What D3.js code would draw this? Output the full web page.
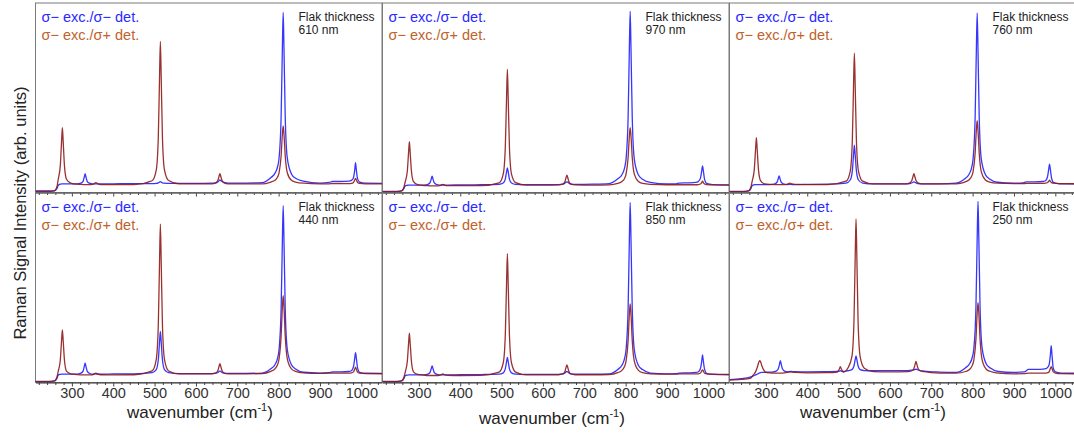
<!DOCTYPE html>
<html><head><meta charset="utf-8">
<script src="https://cdn.jsdelivr.net/npm/d3@7"></script>
<style>body{margin:0;background:#fff}svg{display:block}</style>
</head><body>
<script>
// ---------- DATA ----------
const wavenumber = [212,245,258,264,267,272,275,277,279,282,287,297,312,322,327,330,332,334,337,342,350,353,358,363,370,400,450,494,504,509,512,514,516,519,524,534,560,600,638,648,653,656,658,660,663,668,678,720,760,781,791,797,801,806,809,811,813,816,821,831,841,860,900,922,930,950,970,976,981,984,986,988,991,996,1010,1059];
const wavenumber250 = [212,240,262,270,275,280,283,285,287,290,295,302,315,325,330,333,335,337,340,345,352,360,370,400,450,472,477,480,483,488,498,508,513,516,518,520,523,528,538,560,600,643,653,658,661,663,665,668,673,683,720,760,783,793,799,803,808,811,813,815,818,823,833,843,862,900,925,935,955,974,980,985,988,990,992,995,1000,1014,1059];

const thicknessLabels = ["610 nm","970 nm","760 nm","440 nm","850 nm","250 nm"];
const seriesNames = ["σ− exc./σ− det.","σ− exc./σ+ det."];
const majorTicks = [300,400,500,600,700,800,900,1000];
const minorTicks = [220,240,260,280,320,340,360,380,420,440,460,480,520,540,560,580,620,640,660,680,720,740,760,780,820,840,860,880,920,940,960,980,1020,1040];

const blue610 = [0.8,0.8,1.0,2.2,3.8,4.4,4.5,4.6,4.6,4.6, 4.6,4.5,4.5,4.9,5.9,8.2,10,8.2,5.9,4.9, 4.5,4.5,4.6,4.5,4.5,4.6,4.7,4.7,4.8,5.1, 5.5,5.7,5.5,5.1,4.9,4.8,4.8,4.8,4.9,5.1, 5.6,6.2,6.6,6.3,5.8,5.3,5.0,5.0,5.2,7.8, 10.1,13.2,18.1,39.6,75.3,95,75.3,39.6,18.1,9.8, 7.5,6.0,5.0,5.3,5.8,5.8,6.0,6.4,7.8,11.8, 15.7,11.8,7.2,5.5,4.9,4.8];
const red610 = [0.6,0.6,0.9,3.2,7.0,14.2,26.7,34.2,26.7,14.2, 7.0,5.0,4.4,4.3,4.2,4.2,4.2,4.2,4.2,4.2, 4.3,4.5,5.2,4.5,4.2,4.2,4.2,6.2,11.8,29.2, 60.9,79.7,60.9,29.2,11.8,6.3,4.5,4.5,4.6,5.1, 6.3,8.6,10,8.6,6.3,5.1,4.6,4.5,4.5,5.5, 6.4,8.0,10.4,19.3,30.6,35.2,30.6,19.3,10.4,6.4, 5.5,4.9,4.6,4.6,4.7,4.7,4.7,4.8,5.3,6.6, 7.4,6.6,5.3,4.8,4.6,4.5];
const blue970 = [0.6,0.6,0.9,2.2,3.5,3.8,3.9,3.9,3.9,3.9, 3.9,3.9,3.9,4.3,5.2,7.2,8.6,7.2,5.2,4.3, 3.9,3.9,4.0,3.9,3.9,4.0,4.1,4.3,5.0,7.1, 10.9,13,10.9,7.1,5.0,4.3,4.2,4.2,4.2,4.4, 4.9,5.4,5.6,5.4,4.9,4.4,4.3,4.4,4.7,7.2, 9.4,12.6,17.6,39.4,75.6,95.6,75.6,39.4,17.6,9.2, 7.0,5.3,4.5,4.6,5.0,5.1,5.3,5.8,7.6,11.4, 14,11.4,6.8,4.8,4.2,4.0];
const red970 = [0.5,0.5,0.8,3.0,5.7,11.2,20.9,26.8,20.9,11.2, 5.7,4.1,3.7,3.6,3.5,3.5,3.5,3.5,3.5,3.5, 3.6,3.8,4.3,3.8,3.6,3.6,3.6,5.1,9.7,23.9, 49.6,65,49.6,23.9,9.7,5.2,3.9,3.9,4.0,4.4, 5.6,7.9,9.2,7.9,5.6,4.4,4.0,3.9,4.0,4.8, 5.8,7.3,9.7,18.5,29.7,34.2,29.7,18.5,9.7,5.8, 4.8,4.3,4.1,4.1,4.1,4.1,4.1,4.2,4.5,5.2, 6.0,5.2,4.5,4.2,4.0,3.9];
const blue760 = [0.6,0.6,0.9,2.2,3.7,4.1,4.2,4.2,4.2,4.2, 4.2,4.2,4.2,4.6,5.5,7.4,8.8,7.4,5.5,4.6, 4.2,4.2,4.3,4.2,4.2,4.3,4.4,5.0,6.6,11.3, 19.9,25,19.9,11.3,6.6,5.0,4.5,4.5,4.5,4.7, 5.1,5.4,5.6,5.4,5.1,4.7,4.6,4.6,4.9,7.2, 9.5,12.6,17.6,39.1,75,94.7,75,39.1,17.6,9.4, 7.1,5.4,4.9,5.1,5.6,5.6,5.8,6.2,8.2,12.2, 15,12.2,7.4,5.2,4.6,4.5];
const red760 = [0.5,0.5,0.8,3.1,6.1,12.2,22.6,28.9,22.6,12.2, 6.3,4.6,4.3,4.2,4.2,4.2,4.2,4.2,4.2,4.2, 4.3,4.5,5.0,4.5,4.3,4.2,4.2,6.0,11.2,27.1, 56.2,73.5,56.2,27.1,11.2,6.0,4.5,4.5,4.6,5.1, 6.3,8.6,10,8.6,6.3,5.1,4.6,4.5,4.6,5.5, 6.6,8.3,10.9,20.6,32.9,37.9,32.9,20.6,10.9,6.6, 5.5,4.9,4.7,4.7,4.8,4.8,4.8,4.9,5.3,5.9, 6.5,5.9,5.2,4.9,4.7,4.6];
const blue440 = [0.6,0.6,0.9,2.3,3.9,4.3,4.4,4.4,4.4,4.4, 4.4,4.4,4.4,4.9,6.0,8.5,10.2,8.5,6.0,4.9, 4.4,4.4,4.5,4.4,4.4,4.5,4.6,5.2,6.8,12.0, 21.4,27,21.4,12.0,6.8,5.2,4.7,4.7,4.7,4.9, 5.3,5.8,6.0,5.8,5.3,4.9,4.8,4.8,5.0,7.2, 9.4,12.5,17.4,38.6,73.9,93.3,73.9,38.6,17.4,9.4, 7.1,5.4,5.0,5.2,5.6,5.6,5.8,6.2,8.3,12.7, 15.8,12.7,7.6,5.4,4.9,4.8];
const red440 = [0.5,0.5,0.8,3.0,5.9,11.9,21.9,27.8,21.9,11.9, 6.0,4.6,4.2,4.0,4.0,4.0,4.0,4.0,4.0,4.0, 4.1,4.4,5.0,4.4,4.1,4.0,4.1,6.1,12.1,30.3, 63.7,83.6,63.7,30.3,12.1,6.1,4.5,4.5,4.6,5.0, 6.3,8.6,9.9,8.6,6.3,5.0,4.6,4.6,4.7,5.9, 7.2,9.2,12.5,24.4,39.6,45.8,39.6,24.4,12.5,7.2, 5.9,5.1,4.8,4.9,5.0,5.0,5.0,5.1,5.6,7.0, 8.1,7.0,5.5,4.9,4.7,4.6];
const blue850 = [0.6,0.6,0.9,2.2,3.6,3.9,4.0,4.0,4.0,4.0, 4.0,4.0,4.0,4.4,5.3,7.4,8.8,7.4,5.3,4.4, 4.0,4.0,4.1,4.0,4.0,4.1,4.2,4.4,5.1,7.2, 11.0,13.2,11.0,7.2,5.1,4.4,4.3,4.3,4.3,4.5, 5.0,5.6,5.8,5.6,5.0,4.5,4.4,4.4,4.6,6.9, 9.1,12.3,17.3,39,75.1,95,75.1,39,17.3,9.0, 6.8,5.0,4.6,4.7,5.0,5.1,5.3,5.7,7.4,11.2, 14.6,11.2,6.9,4.8,4.3,4.1];
const red850 = [0.5,0.5,0.8,2.9,5.5,11.1,20.4,26,20.4,11.1, 5.6,4.3,3.9,3.7,3.7,3.7,3.7,3.7,3.7,3.7, 3.8,4.0,4.5,4.0,3.8,3.7,3.8,5.5,10.3,25.1, 52,68,52,25.1,10.3,5.5,4.0,4.0,4.1,4.5, 5.7,8.0,9.3,8.0,5.7,4.5,4.1,4.1,4.2,5.2, 6.4,8.3,11.3,22.1,35.9,41.5,35.9,22.1,11.3,6.4, 5.2,4.6,4.4,4.4,4.5,4.5,4.5,4.6,5.0,6.0, 6.7,6.0,4.9,4.6,4.4,4.2];
const blue250 = [1.5,2.0,2.8,3.5,4.0,4.5,4.9,5.1,5.2,5.3, 5.3,5.4,5.5,6.0,7.2,9.7,11.5,9.7,7.2,6.0, 5.6,5.8,5.7,5.6,5.7,5.8,5.9,6.2,5.9,5.8, 6.2,6.8,8.7,12.1,14.1,12.1,8.7,6.8,6.3,6.2, 6.3,6.3,6.5,6.7,6.9,7.0,6.9,6.6,6.3,6.0, 5.5,5.3,7.8,10,13.2,18.1,39.7,75.8,95.6,75.8, 39.7,18.1,9.8,7.6,5.8,5.3,5.6,6.9,6.9,7.2, 7.7,9.4,14.5,19.4,14.5,7.5,5.6,5.0,4.9];
const red250 = [1.3,1.6,2.2,4.1,5.6,8.6,10.8,11.5,11.0,9.0, 6.5,5.2,5.0,5.0,5.0,5.0,5.0,5.0,5.0,5.1, 5.3,5.6,5.3,5.1,5.2,5.5,6.8,8.3,6.8,5.5, 7.5,13.6,32.2,66.1,86.3,66.1,32.2,13.6,7.5,5.7, 5.6,5.7,6.2,7.4,9.7,11.1,9.7,7.4,6.2,5.7, 5.0,4.9,5.8,7.0,8.9,11.9,22.8,36.6,42.2,36.6, 22.8,11.9,7.0,5.8,5.0,4.6,4.7,5.0,5.0,5.0, 5.1,5.7,7.4,8.4,7.4,5.6,5.0,4.7,4.6];

// ---------- LAYOUT ----------
const FONT = "'Liberation Sans', Arial, sans-serif";
const colX = [35.5, 382.5, 729.5];
const rowY = [3, 193];
const PW = 346.5, PH = 189.5;
const X_DOMAIN = [212, 1050];
const BLUE = "#2020ff", RED = "#8e1b1b";
const LEG_BLUE = "#2a2aff", LEG_RED = "#c0622c";

const panels = [
  {x: wavenumber, blue: blue610, red: red610, c:0, r:0, t: thicknessLabels[0]},
  {x: wavenumber, blue: blue970, red: red970, c:1, r:0, t: thicknessLabels[1]},
  {x: wavenumber, blue: blue760, red: red760, c:2, r:0, t: thicknessLabels[2]},
  {x: wavenumber, blue: blue440, red: red440, c:0, r:1, t: thicknessLabels[3]},
  {x: wavenumber, blue: blue850, red: red850, c:1, r:1, t: thicknessLabels[4]},
  {x: wavenumber250, blue: blue250, red: red250, c:2, r:1, t: thicknessLabels[5]},
];

const svg = d3.select("body").append("svg").attr("width",1074).attr("height",434)
  .style("font-family", FONT);
const defs = svg.append("defs");

panels.forEach((p,i) => {
  const x0 = colX[p.c], y0 = rowY[p.r];
  const x = d3.scaleLinear().domain(X_DOMAIN).range([x0, x0+PW]);
  const y = d3.scaleLinear().domain([0,100]).range([y0+PH, y0]);
  defs.append("clipPath").attr("id","clip"+i).append("rect")
    .attr("x",x0).attr("y",y0).attr("width",PW).attr("height",PH);
  const g = svg.append("g");
  g.append("rect").attr("x",x0).attr("y",y0).attr("width",PW).attr("height",PH)
    .attr("fill","none").attr("stroke","#7a7a7a").attr("stroke-width",1);
  const line = d3.line().x((d,k)=>x(p.x[k])).y(d=>y(d)).curve(d3.curveMonotoneX);
  const lg = g.append("g").attr("clip-path",`url(#clip${i})`);
  lg.append("path").attr("d", line(p.blue)).attr("fill","none")
    .attr("stroke",BLUE).attr("stroke-width",1.3).attr("stroke-opacity",0.9).attr("stroke-linejoin","round");
  lg.append("path").attr("d", line(p.red)).attr("fill","none")
    .attr("stroke",RED).attr("stroke-width",1.3).attr("stroke-opacity",0.9).attr("stroke-linejoin","round");
  const minor = d3.axisBottom(x).tickValues(minorTicks).tickSize(2.5).tickFormat("").tickSizeOuter(0);
  const major = d3.axisBottom(x).tickValues(majorTicks).tickSize(4).tickSizeOuter(0)
     .tickFormat(p.r===1 ? d3.format("d") : "");
  const ag = g.append("g").attr("transform",`translate(0,${y0+PH})`).call(minor);
  const ag2 = g.append("g").attr("transform",`translate(0,${y0+PH})`).call(major);
  [ag, ag2].forEach(a => {
    a.selectAll(".domain").attr("stroke","#333");
    a.selectAll(".tick line").attr("stroke","#444");
    a.selectAll("text").attr("font-size","14.5px").attr("fill","#333").attr("font-family",FONT).attr("dy","0.6em").attr("y",7);
  });
  ag.select(".domain").remove();
  g.append("text").attr("x",x0+6).attr("y",y0+19).attr("font-size","14.5px").attr("fill",LEG_BLUE).text(seriesNames[0]);
  g.append("text").attr("x",x0+6).attr("y",y0+37).attr("font-size","14.5px").attr("fill",LEG_RED).text(seriesNames[1]);
  g.append("text").attr("x",x0+263).attr("y",y0+18).attr("font-size","12px").attr("fill","#222").text("Flak thickness");
  g.append("text").attr("x",x0+263).attr("y",y0+31).attr("font-size","12px").attr("fill","#222").text(p.t);
});

const xTitles = [{cx:200, by:418},{cx:552, by:424},{cx:873, by:418}];
xTitles.forEach(t => {
  const tx = svg.append("text").attr("x",t.cx).attr("y",t.by).attr("text-anchor","middle")
    .attr("font-size","17px").attr("fill","#222");
  tx.append("tspan").text("wavenumber (cm");
  tx.append("tspan").attr("dy","-7").attr("font-size","11px").text("-1");
  tx.append("tspan").attr("dy","7").text(")");
});
svg.append("text").attr("transform","translate(26,213) rotate(-90)").attr("text-anchor","middle")
  .attr("font-size","16.5px").attr("fill","#222").text("Raman Signal Intensity (arb. units)");
</script>
</body></html>
